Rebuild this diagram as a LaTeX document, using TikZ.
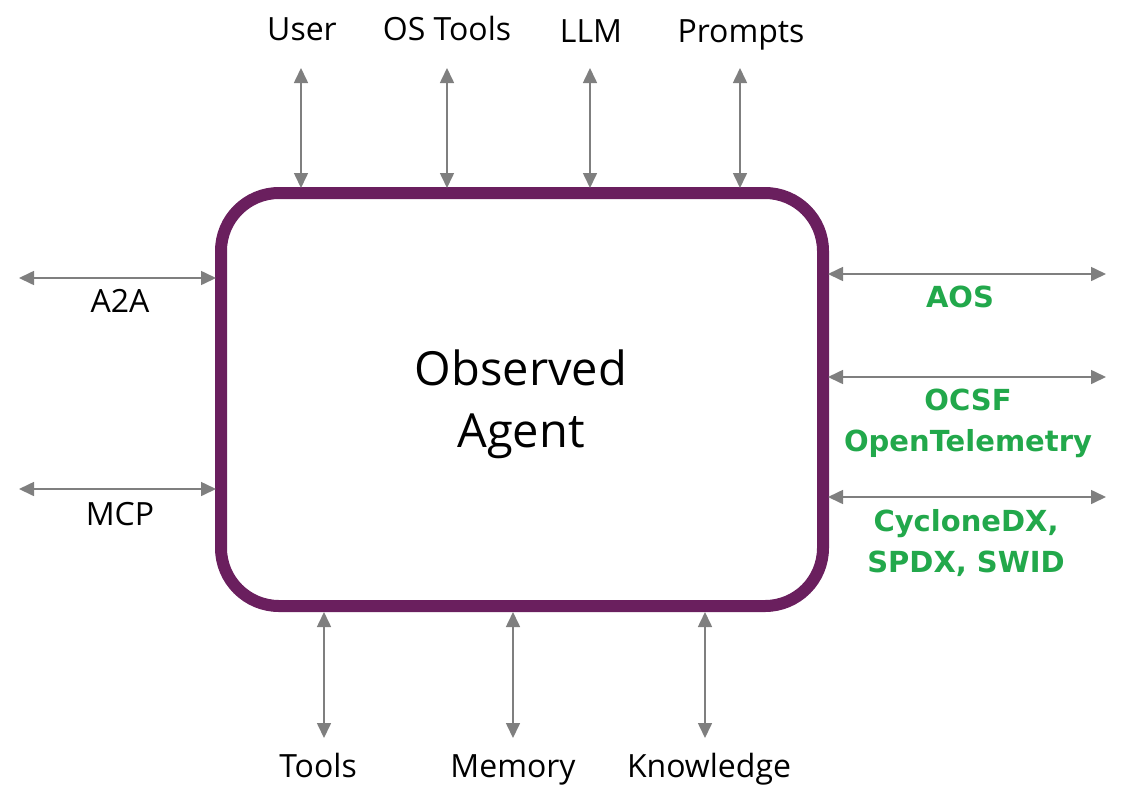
\documentclass[tikz,border=0pt]{standalone}
\usepackage{fontspec}
\setmainfont{Open Sans}
\newfontfamily\greenfont{DejaVu Sans}
\usetikzlibrary{arrows.meta}
\definecolor{agentpurple}{HTML}{6A1F5E}
\definecolor{stdgreen}{HTML}{22A84B}
\definecolor{arrgray}{HTML}{7F7F7F}
\tikzset{
  link/.style={draw=arrgray, line width=1.6pt, {Triangle[width=14pt,length=15pt]}-{Triangle[width=14pt,length=15pt]}},
  lbl/.style={font=\fontsize{32}{38}\selectfont, text=black, inner sep=0pt, text height=0.72em, text depth=0.22em, yshift=-7pt},
  glbl/.style={font=\greenfont\bfseries\fontsize{29}{41}\selectfont, text=stdgreen, inner sep=0pt, align=center},
}
\begin{document}
\begin{tikzpicture}[x=1pt,y=-1pt]
\useasboundingbox (0,0) rectangle (1122,804);
\node[draw=agentpurple, line width=12pt, rounded corners=58pt, minimum width=602pt, minimum height=413pt, inner sep=0pt] (agent) at (522,399.5) {};
\node[font=\fontsize{47}{62}\selectfont, align=center] (agentlbl) at (521,404) {Observed\\Agent};
% top
\foreach \n/\x/\t in {user/301/User, ostools/447/OS Tools, llm/590/LLM, prompts/740/Prompts}{
  \coordinate (\n top) at (\x,68);
  \coordinate (\n bot) at (\x,188);
  \draw[link] (\n top) -- (\n bot);
}
\node[lbl] (userl) at (302,31) {User};
\node[lbl] (ostoolsl) at (447,31) {OS Tools};
\node[lbl] (llml) at (591,33) {LLM};
\node[lbl] (promptsl) at (741,33) {Prompts};
% bottom
\foreach \n/\x in {tools/324, memory/513, knowledge/705}{
  \coordinate (\n top) at (\x,612);
  \coordinate (\n bot) at (\x,738);
  \draw[link] (\n top) -- (\n bot);
}
\node[lbl] (toolsl) at (318,768) {Tools};
\node[lbl] (memoryl) at (513,768) {Memory};
\node[lbl] (knowledgel) at (709,768) {Knowledge};
% left
\foreach \n/\y in {a2a/278, mcp/489}{
  \coordinate (\n l) at (19,\y);
  \coordinate (\n r) at (216,\y);
  \draw[link] (\n l) -- (\n r);
}
\node[lbl] (a2al) at (120,303) {A2A};
\node[lbl] (mcpl) at (120,516) {MCP};
% right
\foreach \n/\y in {aos/274, ocsf/377, cdx/497}{
  \coordinate (\n l) at (828,\y);
  \coordinate (\n r) at (1106,\y);
  \draw[link] (\n l) -- (\n r);
}
\node[glbl] (aosl) at (960,297) {AOS};
\node[glbl] (ocsfl) at (968,423) {OCSF\\OpenTelemetry};
\node[glbl] (cdxl) at (966,543) {CycloneDX,\\SPDX, SWID};
\end{tikzpicture}
\end{document}
